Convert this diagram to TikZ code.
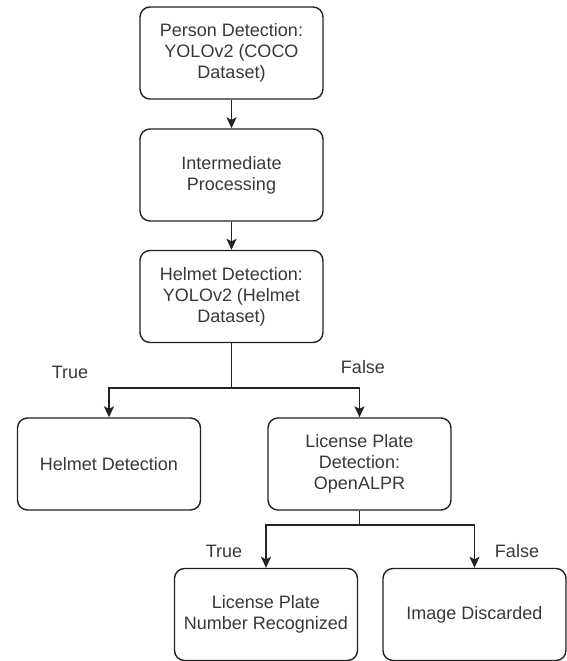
\documentclass[tikz,border=0pt]{standalone}
\usepackage{fontspec}
\setmainfont{Liberation Sans}
\usetikzlibrary{arrows.meta}
\definecolor{ln}{HTML}{222222}
\definecolor{tx}{HTML}{383838}
\begin{document}
\begin{tikzpicture}[x=1pt,y=-1pt,
  box/.style={draw=ln, line width=1.4pt, rounded corners=10pt, minimum width=183pt, minimum height=92pt, align=center, inner sep=0pt, text=tx, font=\fontsize{18}{21}\selectfont},
  conn/.style={draw=ln, line width=1.4pt},
  arr/.style={conn, -{Stealth[length=11pt,width=10pt,inset=2.5pt]}},
  lbl/.style={text=tx, font=\fontsize{18}{21}\selectfont, inner sep=0pt}]
\useasboundingbox (0,0) rectangle (567,661);
\node[box] (b1) at (231.5,53) {Person Detection:\\YOLOv2 (COCO\\Dataset)};
\node[box] (b2) at (231.5,175) {Intermediate\\Processing};
\node[box] (b3) at (231.5,296.5) {Helmet Detection:\\YOLOv2 (Helmet\\Dataset)};
\node[box] (b4) at (109,464) {Helmet Detection};
\node[box] (b5) at (359.5,464) {License Plate\\Detection:\\OpenALPR};
\node[box] (b6) at (266,614.5) {License Plate\\Number Recognized};
\node[box] (b7) at (474.5,614.5) {Image Discarded};
\coordinate (j1) at (231.5,388);
\coordinate (j2) at (359.5,525);
\draw[arr] (b1) -- (b2);
\draw[arr] (b2) -- (b3);
\draw[conn] (b3.south) -- (j1);
\draw[arr] (j1) -| (b4.north);
\draw[arr] (j1) -| (b5.north);
\draw[conn] (b5.south) -- (j2);
\draw[arr] (j2) -| (b6.north);
\draw[arr] (j2) -| (b7.north);
\node[lbl] (t1) at (70,372) {True};
\node[lbl] (f1) at (363,367) {False};
\node[lbl] (t2) at (224,551) {True};
\node[lbl] (f2) at (517,551) {False};
\end{tikzpicture}
\end{document}
